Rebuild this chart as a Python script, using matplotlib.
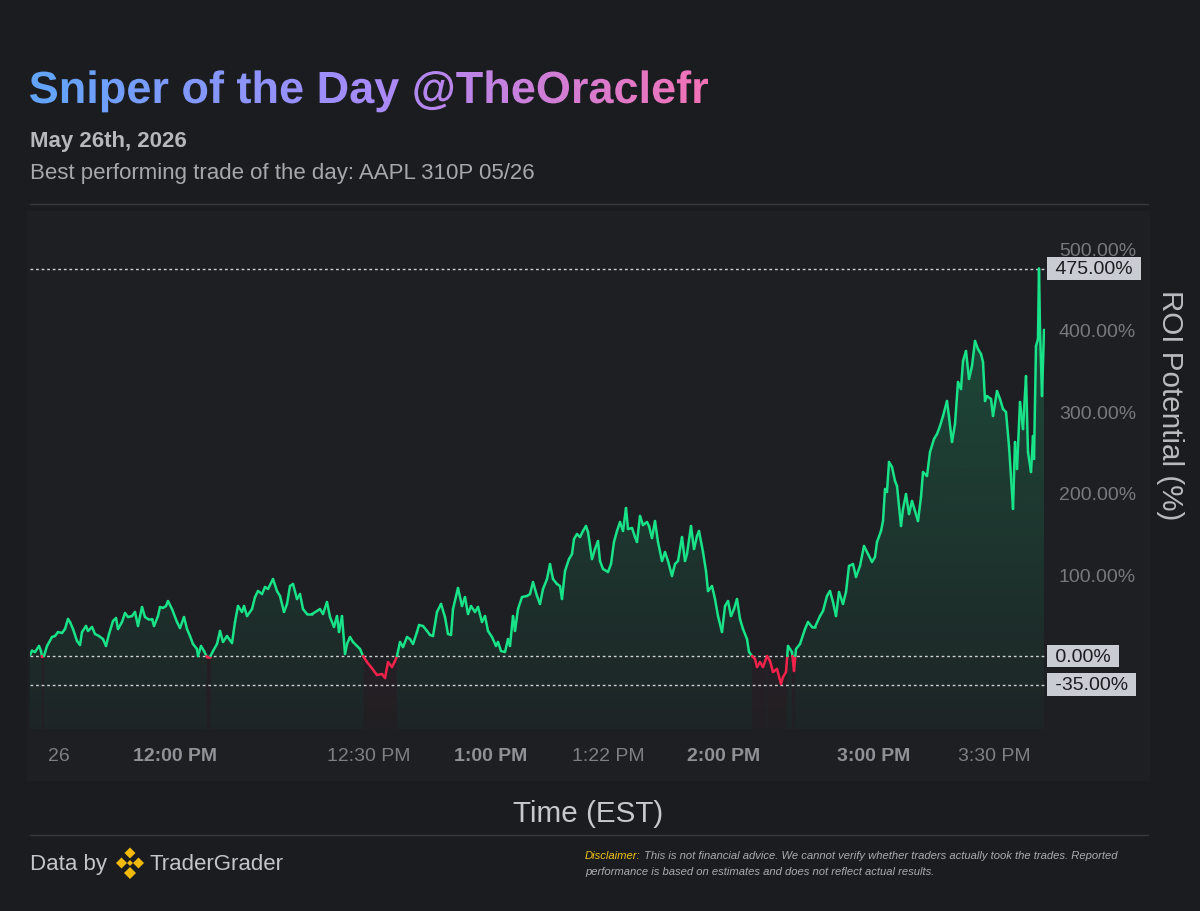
import numpy as np
import matplotlib
matplotlib.use("Agg")
import matplotlib.pyplot as plt
from matplotlib.collections import LineCollection
from matplotlib.textpath import TextPath
from matplotlib.patches import PathPatch, Polygon, Rectangle
from matplotlib.font_manager import FontProperties
from matplotlib.transforms import Affine2D

plt.rcParams['font.family'] = ['Liberation Sans', 'DejaVu Sans']

# --- data (bar index within the session, ROI in %) ---
bars = [0, 2, 5, 9, 11, 12, 14, 17, 22, 25, 28, 32, 35, 38, 40, 43, 47, 50, 52, 56,
        58, 62, 65, 69, 73, 76, 79, 83, 86, 88, 92, 95, 98, 102, 105, 108, 112, 115, 118, 122,
        124, 128, 130, 133, 136, 138, 142, 147, 150, 154, 157, 160, 163, 167, 168, 171, 174, 177, 180, 183,
        187, 190, 193, 197, 202, 205, 208, 212, 214, 217, 222, 225, 228, 232, 235, 238, 243, 247, 250, 254,
        257, 260, 263, 267, 270, 273, 277, 282, 287, 290, 293, 297, 300, 304, 307, 309, 312, 315, 317, 320,
        323, 327, 330, 333, 337, 341, 344, 347, 352, 355, 358, 362, 365, 367, 370, 373, 377, 380, 383, 387,
        389, 393, 397, 400, 403, 407, 411, 415, 418, 421, 423, 428, 432, 435, 438, 441, 445, 448, 452, 455,
        458, 462, 466, 468, 471, 475, 478, 480, 483, 485, 488, 492, 497, 500, 503, 507, 510, 513, 517, 520,
        523, 527, 530, 532, 535, 539, 542, 544, 547, 550, 553, 556, 558, 562, 565, 568, 570, 573, 578, 581,
        584, 587, 590, 593, 596, 598, 602, 605, 607, 610, 613, 617, 619, 622, 625, 628, 632, 635, 638, 642,
        645, 648, 652, 655, 657, 661, 664, 667, 669, 673, 676, 678, 682, 685, 688, 692, 695, 698, 701, 704,
        707, 710, 713, 717, 719, 722, 725, 727, 730, 733, 737, 740, 743, 747, 751, 753, 756, 758, 762, 764,
        766, 770, 775, 778, 782, 785, 790, 793, 797, 800, 803, 806, 809, 813, 816, 819, 823, 826, 830, 834,
        838, 842, 845, 847, 851, 853, 855, 857, 859, 862, 865, 867, 871, 873, 876, 879, 882, 885, 888, 891,
        893, 897, 900, 904, 907, 910, 913, 917, 919, 922, 925, 928, 931, 933, 936, 939, 942, 945, 948, 951,
        953, 955, 957, 961, 963, 967, 970, 973, 976, 979, 982, 983, 985, 987, 990, 993, 996, 998, 1001, 1003,
        1004, 1006, 1008, 1009, 1010, 1012, 1014]
roi = [1.0, 6.5, 4.9, 12.3, 6.1, -1.2, 0.0, 12.3, 23.3, 24.5, 29.4, 28.2, 33.1, 45.4, 41.7, 33.1, 18.4, 13.5, 29.4, 36.8,
       30.7, 35.6, 27.0, 24.5, 20.8, 12.3, 27.0, 42.9, 46.6, 33.1, 41.7, 52.7, 47.8, 49.0, 54.0, 36.8, 60.1, 47.8, 45.4, 45.4,
       36.8, 49.0, 60.1, 58.9, 61.3, 67.4, 57.6, 41.7, 34.3, 47.8, 33.1, 24.5, 14.7, 8.6, 0.0, 12.3, 6.1, -1.2, -1.2, 6.1,
       14.7, 30.7, 17.2, 24.5, 15.9, 41.7, 61.3, 54.0, 61.3, 49.0, 57.6, 72.3, 79.7, 76.0, 84.6, 82.2, 94.4, 79.7, 73.6, 54.0,
       63.8, 85.8, 88.3, 69.9, 76.0, 57.6, 51.5, 51.5, 55.2, 57.6, 51.5, 66.2, 47.8, 35.6, 49.0, 29.4, 49.0, 2.5, 14.7, 23.3,
       17.2, 12.3, 8.6, 0.0, -7.4, -13.5, -18.4, -23.3, -22.1, -27.0, -7.4, -13.5, -6.1, 0.0, 17.2, 11.0, 23.3, 20.8, 14.7, 29.4,
       38.0, 36.8, 30.7, 25.8, 24.5, 54.0, 63.8, 47.8, 27.0, 25.8, 57.6, 83.4, 61.3, 72.3, 51.5, 61.3, 54.0, 60.1, 41.7, 49.0,
       30.7, 23.3, 12.3, 17.2, 6.1, 4.9, 20.8, 12.3, 49.0, 30.7, 57.6, 72.3, 73.6, 76.0, 90.7, 73.6, 63.8, 82.2, 94.4, 112.8,
       94.4, 88.3, 85.8, 69.9, 104.2, 118.9, 125.1, 143.5, 149.6, 145.9, 153.3, 159.4, 152.0, 118.9, 131.2, 141.0, 116.5, 106.7, 103.0, 112.8,
       140.0, 153.3, 164.3, 153.3, 181.5, 155.7, 157.0, 145.9, 139.8, 171.7, 160.6, 164.3, 159.4, 144.7, 165.5, 139.8, 116.5, 127.5, 116.5, 98.1,
       112.8, 116.5, 145.9, 116.5, 125.1, 159.4, 131.2, 147.1, 153.3, 127.5, 104.2, 79.7, 85.8, 69.9, 49.0, 29.4, 61.3, 67.4, 49.0, 57.6,
       69.9, 45.4, 33.1, 20.8, 4.9, 0.0, -3.7, -13.5, -7.4, -13.5, 0.0, -6.1, -19.6, -15.9, -34.3, -25.8, -19.6, 12.3, 4.9, -18.4,
       8.6, 14.7, 33.1, 41.7, 35.6, 35.6, 49.0, 55.2, 73.6, 79.7, 66.2, 49.0, 78.5, 63.8, 78.5, 110.4, 112.8, 96.9, 110.4, 134.9,
       125.1, 115.3, 121.4, 139.8, 153.3, 165.5, 204.8, 201.1, 237.9, 231.8, 214.6, 208.5, 159.4, 180.3, 198.6, 174.1, 190.1, 177.8, 165.5, 195.0,
       225.6, 220.7, 250.1, 266.1, 272.2, 282.0, 294.3, 312.7, 293.1, 262.4, 284.5, 336.0, 327.4, 361.7, 374.0, 339.7, 355.6, 386.3, 376.4, 370.3,
       360.5, 312.7, 318.8, 315.1, 294.3, 324.9, 315.1, 302.9, 299.2, 257.5, 201.1, 180.3, 262.4, 229.3, 311.5, 278.3, 343.3, 250.1, 225.6, 269.8,
       241.6, 380.1, 388.7, 475.0, 401.0, 318.8, 400.0]

tick_bars = [29, 145, 339, 461, 578, 694, 844, 964]
tick_labels = ['26', '12:00 PM', '12:30 PM', '1:00 PM', '1:22 PM', '2:00 PM', '3:00 PM', '3:30 PM']
tick_bold = [False, True, False, True, False, True, True, False]

y_ticks = [100, 200, 300, 400, 500]
ref_levels = [475, 0, -35]

title = 'Sniper of the Day @TheOraclefr'
date_text = 'May 26th, 2026'
trade_text = 'Best performing trade of the day: AAPL 310P 05/26'

BG = '#1b1c20'
PANEL = '#1e1f23'
GREEN = '#19e388'
RED = '#f3224b'

fig = plt.figure(figsize=(12, 9.12), dpi=100, facecolor=BG)

# decoration layer in pixel coordinates (y downwards)
deco = fig.add_axes([0, 0, 1, 1])
deco.axis('off')
deco.add_patch(Rectangle((27, 212), 1123, 570, fc=PANEL, ec='none'))

# gradient title
fp = FontProperties(family='Liberation Sans', weight='bold')
tp = TextPath((0, 0), title, size=45, prop=fp)
ext = tp.get_extents()
k = 678 / ext.width
tpatch = PathPatch(tp, fc='none', ec='none',
                   transform=Affine2D().scale(k, -k).translate(30 - ext.x0 * k, 104) + deco.transData)
deco.add_patch(tpatch)
stops = np.array([[0x60, 0xa5, 0xfa], [0xa7, 0x8b, 0xfa], [0xf4, 0x72, 0xb6]]) / 255
t = np.linspace(0, 1, 512)
grad = np.stack([np.interp(t, [0, 0.5, 1], stops[:, c]) for c in range(3)], axis=-1)[None, :, :]
gim = deco.imshow(grad, extent=(28, 712, 120, 55), aspect='auto', interpolation='bilinear')
gim.set_clip_path(tpatch)

deco.text(30, 141, date_text, fontsize=16, fontweight='bold', color='#b6b8bc', va='center')
deco.text(30, 173, trade_text, fontsize=16, color='#a6a8ad', va='center')
deco.plot([30, 1148], [205, 205], color='#38393e', lw=1)
deco.plot([30, 1148], [836, 836], color='#38393e', lw=1)

# footer
deco.text(30, 865, 'Data by', fontsize=16, color='#c3c5c9', va='center')
deco.text(150, 865, 'TraderGrader', fontsize=16, color='#c3c5c9', va='center')
for cx, cy, s in [(130, 854, 5.5), (121.5, 864, 5.5), (138.5, 864, 5.5), (130, 874, 6), (130, 864, 3)]:
    deco.add_patch(Polygon([(cx, cy - s), (cx + s, cy), (cx, cy + s), (cx - s, cy)], closed=True,
                           fc='#f0b90b', ec='none'))
d1 = deco.text(585, 856, 'Disclaimer:', fontsize=8.1, style='italic', color='#f0c419', va='center')
deco.annotate('This is not financial advice. We cannot verify whether traders actually took the trades. Reported',
              xy=(1, 0.5), xycoords=d1, xytext=(3, 0), textcoords='offset pixels',
              fontsize=8.1, style='italic', color='#a9abb0', va='center', ha='left')
deco.text(585, 872, 'performance is based on estimates and does not reflect actual results.',
          fontsize=8.1, style='italic', color='#a9abb0', va='center')
deco.set_xlim(0, 1200)
deco.set_ylim(912, 0)

# main chart
Y_MIN, Y_MAX = -89.5, 542.0
X_MAX = 1015
ax = fig.add_axes([30 / 1200, (912 - 730) / 912, 1015 / 1200, 515 / 912])
ax.set_facecolor('none')

x = np.array(bars, dtype=float)
y = np.array(roi, dtype=float)

# insert zero crossings so the colour switches exactly at 0
xs, ys = [x[0]], [y[0]]
for i in range(1, len(x)):
    if y[i - 1] * y[i] < 0:
        f = y[i - 1] / (y[i - 1] - y[i])
        xs.append(x[i - 1] + f * (x[i] - x[i - 1]))
        ys.append(0.0)
    xs.append(x[i])
    ys.append(y[i])
xs, ys = np.array(xs), np.array(ys)

# gradient fill under the line
xg = np.arange(0, X_MAX + 1)
yv = np.interp(xg, xs, ys)
neg = yv < 0
rows = np.linspace(Y_MAX, Y_MIN, 400)
alpha = np.clip(0.03 + 0.21 * (rows - Y_MIN) / (475 - Y_MIN), 0, 0.26)
img = np.zeros((len(rows), len(xg), 4))
g_rgb = np.array(matplotlib.colors.to_rgb(GREEN))
r_rgb = np.array(matplotlib.colors.to_rgb(RED))
img[:, :, :3] = np.where(neg[None, :, None], r_rgb, g_rgb)
img[:, :, 3] = alpha[:, None] * np.where(neg, 0.6, 1.0)[None, :]
verts = [(xs[0], Y_MIN)] + list(zip(xs, ys)) + [(xs[-1], Y_MIN)]
clip = Polygon(verts, closed=True, fc='none', ec='none')
ax.add_patch(clip)
fim = ax.imshow(img, extent=(0, X_MAX, Y_MIN, Y_MAX), origin='upper', aspect='auto',
                interpolation='bilinear', zorder=1)
fim.set_clip_path(clip)

# reference lines
for lv in ref_levels:
    ax.axhline(lv, color='#cfd0d3', lw=1, ls=(0, (2, 2)), zorder=2)

# colored line
pts = np.column_stack([xs, ys])
segs = np.stack([pts[:-1], pts[1:]], axis=1)
cols = [RED if (a + b) / 2 < 0 else GREEN for a, b in zip(ys[:-1], ys[1:])]
ax.add_collection(LineCollection(segs, colors=cols, linewidths=1.8, capstyle='round',
                                 joinstyle='round', zorder=3))

ax.set_xlim(0, X_MAX)
ax.set_ylim(Y_MIN, Y_MAX)
for sp in ax.spines.values():
    sp.set_visible(False)

ax.yaxis.tick_right()
ax.set_yticks(y_ticks, [f'{v:.2f}%' for v in y_ticks])
ax.tick_params(axis='y', length=0, pad=10, labelsize=14, labelcolor='#77797f')
ax.set_xticks(tick_bars, tick_labels)
ax.tick_params(axis='x', length=0, pad=13, labelsize=14, labelcolor='#7d7f85')
for lbl, b in zip(ax.get_xticklabels(), tick_bold):
    if b:
        lbl.set_fontweight('bold')
        lbl.set_color('#8f9197')

# value tags
for lv in ref_levels:
    ax.annotate(f' {lv:.2f}% ', xy=(1, lv), xycoords=('axes fraction', 'data'),
                xytext=(5, 0), textcoords='offset pixels', va='center', ha='left',
                fontsize=14, color='#1b1c20', annotation_clip=False, zorder=5,
                bbox=dict(boxstyle='square,pad=0.15', fc='#c9ccd3', ec='none'))

fig.text(1170 / 1200, 1 - 405 / 912, 'ROI Potential (%)', rotation=270, ha='center', va='center',
         fontsize=21.3, color='#b9bbc0')
fig.text(588 / 1200, 1 - 814 / 912, 'Time (EST)', ha='center', va='center',
         fontsize=21.3, color='#c6c8cc')

fig.savefig('out.png', dpi=100, facecolor=BG)
